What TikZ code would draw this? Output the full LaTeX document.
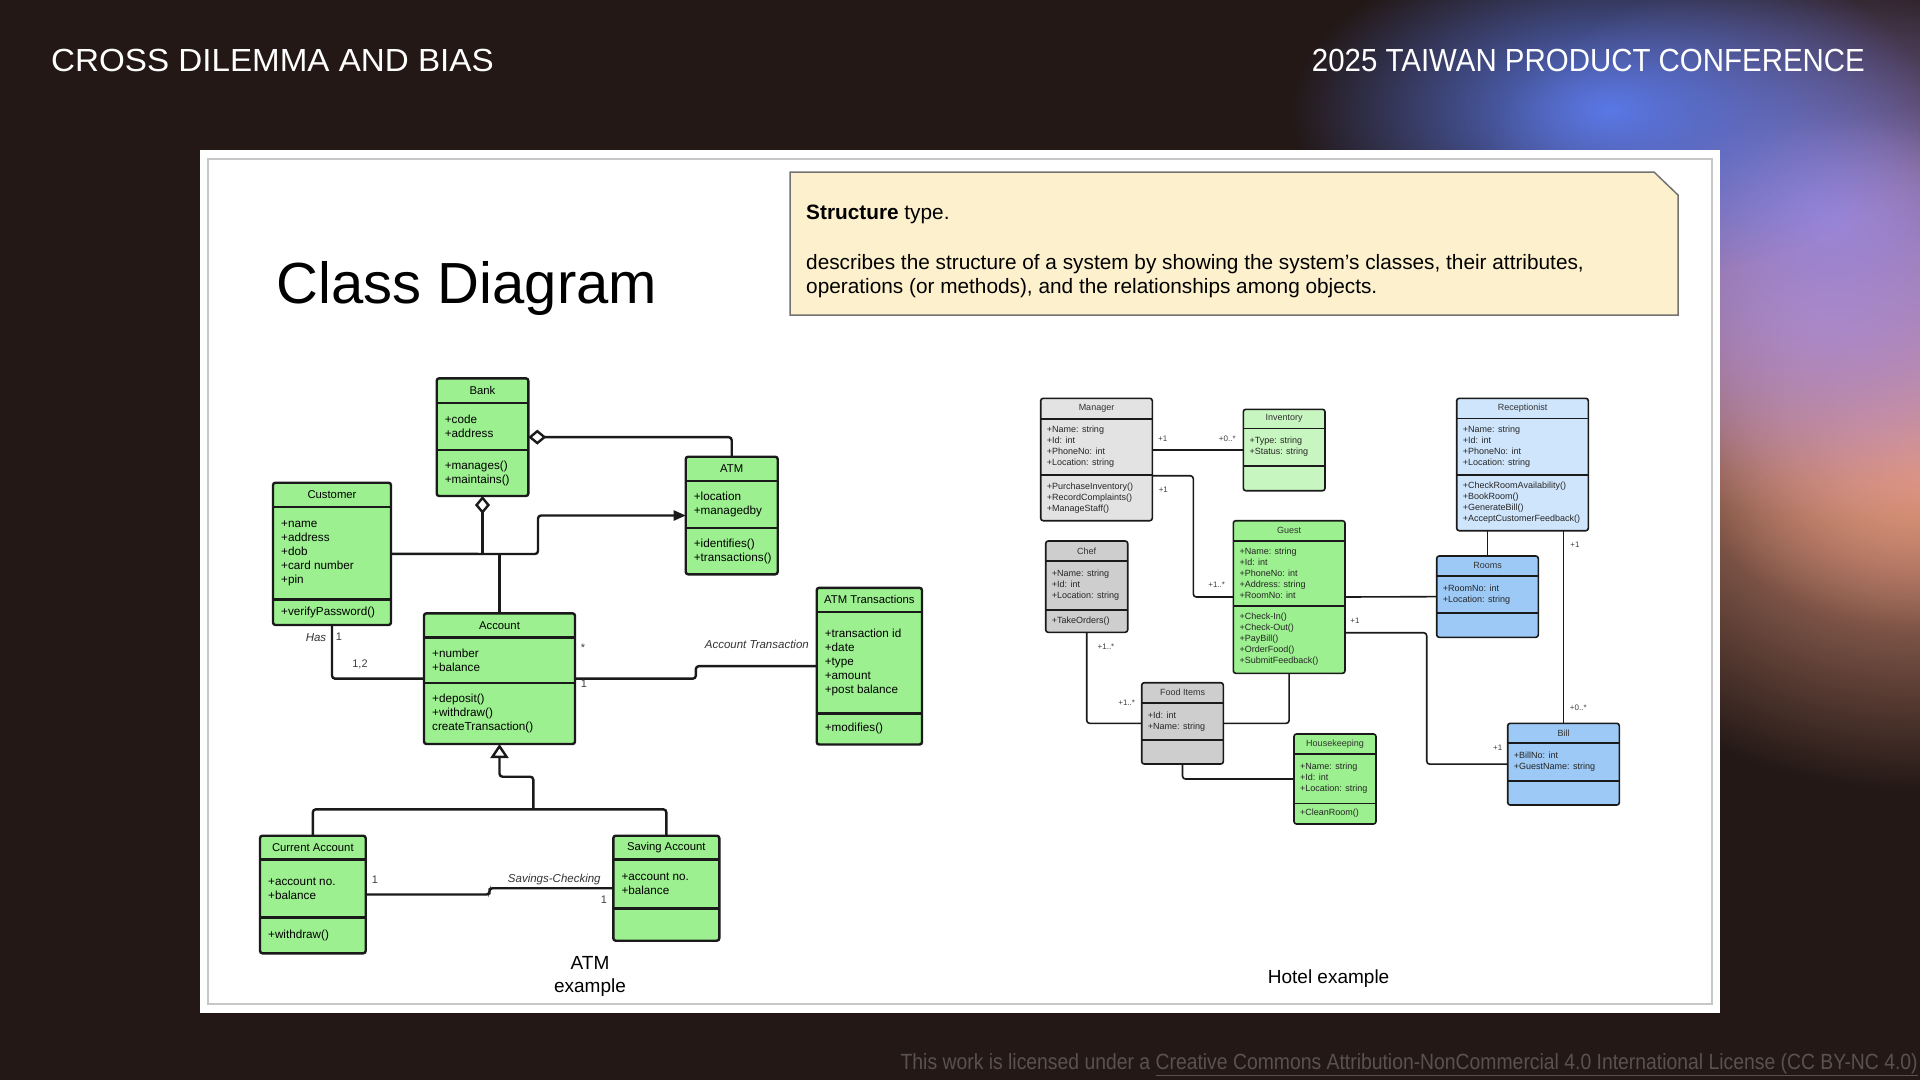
\documentclass[tikz,border=0pt]{standalone}
\usepackage{fontspec}
\setmainfont{Liberation Sans}
\newfontfamily\footfont[FakeStretch=0.88]{Liberation Sans}
\usetikzlibrary{positioning,calc,fit,arrows.meta,fadings}

\definecolor{slidebg}{HTML}{231816}
\definecolor{glowblue}{HTML}{5A78E6}
\definecolor{glowpurple}{HTML}{9C86D8}
\definecolor{glowpink}{HTML}{C08CB4}
\definecolor{gloworange}{HTML}{E3987E}
\definecolor{footgrey}{HTML}{5A5250}
\definecolor{notefill}{HTML}{FDF0CC}
\definecolor{umlline}{HTML}{1A1A1A}
\definecolor{atmgreen}{HTML}{9CF08F}
\definecolor{palegreen}{HTML}{C8F6C0}
\definecolor{lightgrey}{HTML}{E3E3E3}
\definecolor{midgrey}{HTML}{CECECE}
\definecolor{paleblue}{HTML}{CFE5FB}
\definecolor{roomblue}{HTML}{9CC9F5}

\tikzfading[name=glow, inner color=transparent!0, outer color=transparent!100]

% one UML class: style, name, corner, corner, header line, divider, title, attributes, operations
\newcommand{\umlclass}[9][]{%
  \node[classbox,#1,fit={#3 #4}] (#2) {};
  \draw[classline] (#2.west |- 0,#5) -- (#2.east |- 0,#5);
  \draw[classline] (#2.west |- 0,#6) -- (#2.east |- 0,#6);
  \node[classtitle] (#2-title) at ($(#2.north)!.5!(#2.north |- 0,#5)$) {#7};
  \node[classtext] (#2-attrs) at ($(#2.west |- 0,#5)!.5!(#2.west |- 0,#6)$) {#8};
  \node[classtext] (#2-ops) at ($(#2.west |- 0,#6)!.5!(#2.south west)$) {#9};
}

\begin{document}
\begin{tikzpicture}[x=1pt, y=-1pt,
    classbox/.style={draw=umlline, rounded corners=2.5pt, inner sep=0pt, outer sep=0pt},
    classtitle/.style={inner sep=0pt},
    classtext/.style={anchor=west, align=left, inner sep=0pt},
    assoc/.style={draw=umlline, rounded corners=3pt},
    mult/.style={inner sep=0pt, text=black!75},
    role/.style={inner sep=0pt, text=black!80, font=\itshape\fontsize{11.5}{13}\selectfont}]

  \useasboundingbox (0,0) rectangle (1920,1080);
  \fill[slidebg] (0,0) rectangle (1920,1080);
  \begin{scope}
    \clip (0,0) rectangle (1920,1080);
    \fill[gloworange, path fading=glow] (1920,450) ellipse (420pt and 340pt);
    \fill[gloworange, path fading=glow] (1930,430) ellipse (260pt and 200pt);
    \fill[glowpink, path fading=glow] (1830,320) ellipse (300pt and 200pt);
    \fill[glowpurple, path fading=glow] (1830,220) ellipse (360pt and 260pt);
    \fill[glowblue, path fading=glow] (1610,110) ellipse (320pt and 170pt);
  \end{scope}

  % header and footer
  \node[anchor=west, text=white, inner sep=0pt, xscale=1.037, font=\fontsize{32}{36}\selectfont] (topic) at (51,60) {CROSS DILEMMA AND BIAS};
  \node[anchor=east, text=white, inner sep=0pt, xscale=0.92, font=\fontsize{32}{36}\selectfont] (event) at (1865,60) {2025 TAIWAN PRODUCT CONFERENCE};
  \node[anchor=east, text=footgrey, inner sep=0pt, font=\footfont\fontsize{22}{24}\selectfont] (licence) at (1918,1065)
    {This work is licensed under a \underline{Creative Commons Attribution-NonCommercial 4.0 International License (CC BY-NC 4.0)}};

  % card
  \fill[white] (200,150) rectangle (1720,1013);
  \draw[black!22, line width=1.5pt] (208,159) rectangle (1712,1004);

  \node[inner sep=0pt, font=\fontsize{58}{62}\selectfont] (heading) at (467,288) {Class Diagram};
  \draw[fill=notefill, draw=black!55, line width=1.5pt] (790,172) -- (1654,172) -- (1678,195) -- (1678,315) -- (790,315) -- cycle;
  \node[anchor=west, inner sep=0pt, font=\fontsize{20.8}{24}\selectfont] (kind) at (806,214) {\textbf{Structure} type.};
  \node[anchor=north west, align=left, inner sep=0pt, font=\fontsize{20.8}{24.5}\selectfont] (summary) at (806,254)
    {describes the structure of a system by showing the system's classes, their attributes,\\operations (or methods), and the relationships among objects.};

  % ATM example
  \begin{scope}[classbox/.append style={fill=atmgreen, line width=2.4pt},
      classline/.style={draw=umlline, line width=2.4pt},
      classtitle/.append style={font=\fontsize{11.3}{13}\selectfont},
      classtext/.append style={xshift=8pt, font=\fontsize{11.7}{14}\selectfont},
      assoc/.append style={line width=2.4pt}]
    \umlclass{bank}{(436.7,378.3)}{(528.3,496)}{403}{450}{Bank}{+code\\+address}{+manages()\\+maintains()}
    \umlclass{customer}{(273,482.7)}{(391,625)}{506.7}{599.3}{Customer}{+name\\+address\\+dob\\+card number\\+pin}{+verifyPassword()}
    \umlclass{account}{(424,613.3)}{(575,744)}{637.3}{682.7}{Account}{+number\\+balance}{+deposit()\\+withdraw()\\createTransaction()}
    \umlclass{atm}{(685.7,456.7)}{(777.7,574.3)}{481}{527.7}{ATM}{+location\\+managedby}{+identifies()\\+transactions()}
    \umlclass{atmtrans}{(816.7,587.8)}{(922,744.5)}{611.7}{713.3}{ATM Transactions}{+transaction id\\+date\\+type\\+amount\\+post balance}{+modifies()}
    \umlclass{current}{(260,835.7)}{(365.7,953.3)}{859.3}{917.3}{Current Account}{+account no.\\+balance}{+withdraw()}
    \umlclass{saving}{(613.3,835.7)}{(719.3,940.7)}{859.3}{908.3}{Saving Account}{+account no.\\+balance}{}

    \coordinate (bend1) at (538,554);
    \coordinate (genbar) at (533.3,809.3);
    \coordinate (transmid) at ($(account.east)!.5!(atmtrans.west)$);
    \coordinate (savemid) at ($(current.east)!.5!(saving.west)$);

    \draw[assoc, {Diamond[open, length=18pt, width=15pt]}-] (bank.east) -| (atm.north);
    \draw[assoc, {Diamond[open, length=18pt, width=15pt]}-] (bank.south) -- (bank.south |- bend1);
    \draw[assoc, -{Triangle[length=12pt, width=10pt]}] (customer.east) -- (bend1) |- (atm.west);
    \draw[assoc] (account.north) -- (account.north |- bend1);
    \draw[assoc] (customer.south) |- (account.west);
    \draw[assoc] (account.east) -| (transmid) |- (atmtrans.west);
    \draw[assoc] (current.north) |- (saving.north |- genbar) -- (saving.north);
    \draw[assoc, -{Triangle[open, length=14pt, width=18pt]}] (genbar) |- (account.south |- 0,776.7) -- (account.south);
    \draw[assoc] (current.east) -| (savemid) |- (saving.west);

    \begin{scope}[mult/.append style={font=\fontsize{11}{13}\selectfont}]
      \node[role] (has) at (316,638) {Has};
      \node[mult] (has-a) at (339,637) {1};
      \node[mult] (has-b) at (360,664) {1,2};
      \node[mult] (trans-a) at (583,648) {*};
      \node[mult] (trans-b) at (584,684) {1};
      \node[role, anchor=east] (transrole) at (809,644) {Account Transaction};
      \node[mult] (save-a) at (375,880) {1};
      \node[mult] (save-b) at (604,900) {1};
      \node[role] (saverole) at (554.3,879.3) {Savings-Checking};
    \end{scope}
  \end{scope}
  \node[align=center, inner sep=0pt, font=\fontsize{19}{23}\selectfont] (atmcap) at (590,976) {ATM\\example};

  % Hotel example
  \begin{scope}[classbox/.append style={line width=1.6pt},
      classline/.style={draw=umlline, line width=1.6pt},
      classtitle/.append style={text=black!80, font=\fontsize{9}{11}\selectfont},
      classtext/.append style={xshift=6pt, text=black!85, font=\fontsize{9}{11}\selectfont},
      assoc/.append style={line width=1.6pt},
      mult/.append style={font=\fontsize{8}{10}\selectfont}]
    \umlclass[fill=lightgrey]{manager}{(1040.7,398.3)}{(1152.3,520.7)}{419}{475}{Manager}{+Name: string\\+Id: int\\+PhoneNo: int\\+Location: string}{+PurchaseInventory()\\+RecordComplaints()\\+ManageStaff()}
    \umlclass[fill=palegreen]{inventory}{(1243.3,409.3)}{(1325,490.7)}{428.3}{466}{Inventory}{+Type: string\\+Status: string}{}
    \umlclass[fill=atmgreen]{guest}{(1233.3,520.7)}{(1345,673.3)}{540.7}{606}{Guest}{+Name: string\\+Id: int\\+PhoneNo: int\\+Address: string\\+RoomNo: int}{+Check-In()\\+Check-Out()\\+PayBill()\\+OrderFood()\\+SubmitFeedback()}
    \umlclass[fill=midgrey]{chef}{(1045.7,541)}{(1127.7,632.3)}{560.7}{610}{Chef}{+Name: string\\+Id: int\\+Location: string}{+TakeOrders()}
    \umlclass[fill=midgrey]{food}{(1141.7,682.7)}{(1223.3,764)}{702.7}{740}{Food Items}{+Id: int\\+Name: string}{}
    \umlclass[fill=atmgreen]{housekeeping}{(1294,734)}{(1376,824)}{754}{803.3}{Housekeeping}{+Name: string\\+Id: int\\+Location: string}{+CleanRoom()}
    \umlclass[fill=paleblue]{receptionist}{(1456.7,398.3)}{(1588.3,530.7)}{418.3}{475}{Receptionist}{+Name: string\\+Id: int\\+PhoneNo: int\\+Location: string}{+CheckRoomAvailability()\\+BookRoom()\\+GenerateBill()\\+AcceptCustomerFeedback()}
    \umlclass[fill=roomblue]{rooms}{(1436.7,556)}{(1538.3,637.3)}{575.7}{612.7}{Rooms}{+RoomNo: int\\+Location: string}{}
    \umlclass[fill=roomblue]{bill}{(1507.7,723.3)}{(1619.3,805)}{742.7}{780.7}{Bill}{+BillNo: int\\+GuestName: string}{}

    \coordinate (mgbend) at (1193.3,475.7);
    \coordinate (gbbend) at (1426.7,632.7);

    \draw[assoc] (manager.east |- inventory.west) -- (inventory.west);
    \draw[assoc] (manager.east |- mgbend) -- (mgbend) |- (guest.west);
    \draw[assoc] (guest.east) -- (rooms.west);
    \draw[assoc] (guest.east |- gbbend) -- (gbbend) |- (bill.west);
    \draw[assoc] (rooms.north) -- (rooms.north |- receptionist.south);
    \draw[assoc] (bill.north) -- (bill.north |- receptionist.south);
    \draw[assoc] (chef.south) |- (food.west);
    \draw[assoc] (guest.south) |- (food.east);
    \draw[assoc] (food.south) |- (housekeeping.west);

    \node[mult] (inv-a) at (1162.7,439) {+1};
    \node[mult] (inv-b) at (1227.3,439) {+0..*};
    \node[mult] (gst-a) at (1163.3,489.3) {+1};
    \node[mult] (gst-b) at (1216.7,585) {+1..*};
    \node[mult] (bill-a) at (1355,620.7) {+1};
    \node[mult] (bill-b) at (1497.7,747.7) {+1};
    \node[mult] (rcp-a) at (1575,545) {+1};
    \node[mult] (rcp-b) at (1578.3,707.3) {+0..*};
    \node[mult] (chef-a) at (1106,646.7) {+1..*};
    \node[mult] (chef-b) at (1126.7,702.7) {+1..*};
  \end{scope}
  \node[inner sep=0pt, font=\fontsize{19}{23}\selectfont] (hotelcap) at (1328.6,978.4) {Hotel example};
\end{tikzpicture}
\end{document}
